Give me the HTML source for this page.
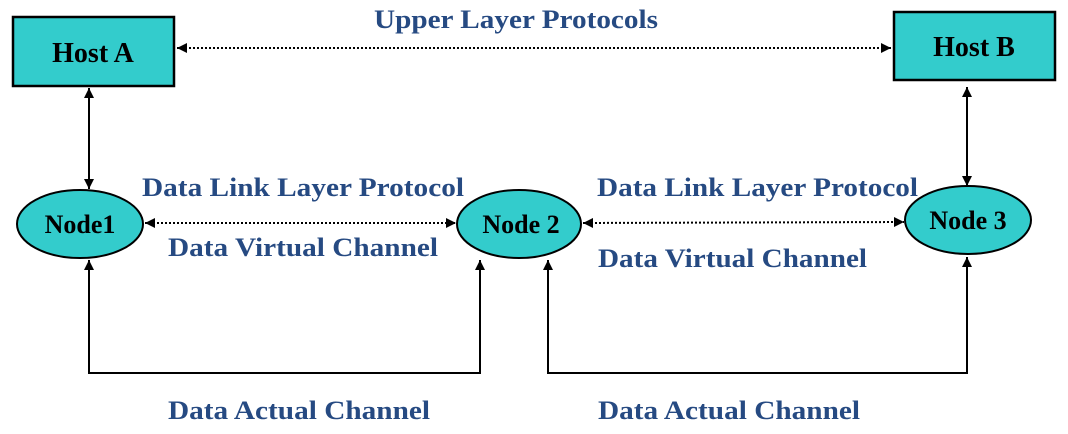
<!DOCTYPE html>
<html><head><style>html,body{margin:0;padding:0;background:#fff;}</style></head>
<body>
<svg width="1068" height="429" viewBox="0 0 1068 429" xmlns="http://www.w3.org/2000/svg">
<defs>
<marker id="ah" viewBox="0 0 10 10" refX="10" refY="5" markerWidth="10" markerHeight="10" markerUnits="userSpaceOnUse" orient="auto-start-reverse"><path d="M0,0 L10,5 L0,10 z" fill="#000"/></marker>
</defs>
<g font-family="Liberation Serif, serif" font-weight="bold">
<rect x="13" y="17" width="161" height="69" fill="#33cccc" stroke="#000" stroke-width="2.5"/>
<text x="93" y="62" font-size="28" text-anchor="middle" fill="#000">Host A</text>
<rect x="894" y="12" width="161" height="68" fill="#33cccc" stroke="#000" stroke-width="2.5"/>
<text x="974" y="56" font-size="28" text-anchor="middle" fill="#000">Host B</text>
<ellipse cx="80" cy="224" rx="63" ry="34" fill="#33cccc" stroke="#000" stroke-width="2"/>
<text x="80" y="233" font-size="26" text-anchor="middle" fill="#000">Node1</text>
<ellipse cx="519" cy="224" rx="62" ry="34" fill="#33cccc" stroke="#000" stroke-width="2"/>
<text x="521" y="233" font-size="26" text-anchor="middle" fill="#000">Node 2</text>
<ellipse cx="968" cy="220" rx="63" ry="34" fill="#33cccc" stroke="#000" stroke-width="2"/>
<text x="968" y="229" font-size="26" text-anchor="middle" fill="#000">Node 3</text>
<g fill="#264a82" font-size="26">
<text x="374" y="28" textLength="284" lengthAdjust="spacingAndGlyphs">Upper Layer Protocols</text>
<text x="142" y="196" textLength="322" lengthAdjust="spacingAndGlyphs">Data Link Layer Protocol</text>
<text x="168" y="256" textLength="270" lengthAdjust="spacingAndGlyphs">Data Virtual Channel</text>
<text x="597" y="196" textLength="321" lengthAdjust="spacingAndGlyphs">Data Link Layer Protocol</text>
<text x="598" y="267" textLength="269" lengthAdjust="spacingAndGlyphs">Data Virtual Channel</text>
<text x="168" y="419" textLength="262" lengthAdjust="spacingAndGlyphs">Data Actual Channel</text>
<text x="598" y="419" textLength="262" lengthAdjust="spacingAndGlyphs">Data Actual Channel</text>
</g>
</g>
<g stroke="#000" fill="none">
<line x1="177" y1="48" x2="891" y2="48" stroke-width="2" stroke-dasharray="2,2" marker-start="url(#ah)" marker-end="url(#ah)"/>
<line x1="145" y1="223" x2="456" y2="223" stroke-width="2" stroke-dasharray="2,2" marker-start="url(#ah)" marker-end="url(#ah)"/>
<line x1="583" y1="223" x2="904" y2="222" stroke-width="2" stroke-dasharray="2,2" marker-start="url(#ah)" marker-end="url(#ah)"/>
<line x1="89" y1="88" x2="89" y2="189" stroke-width="2" marker-start="url(#ah)" marker-end="url(#ah)"/>
<line x1="967" y1="87" x2="967" y2="186" stroke-width="2" marker-start="url(#ah)" marker-end="url(#ah)"/>
<polyline points="89,260 89,373 480,373 480,260" stroke-width="2" marker-start="url(#ah)" marker-end="url(#ah)"/>
<polyline points="548,260 548,373 967,373 967,257" stroke-width="2" marker-start="url(#ah)" marker-end="url(#ah)"/>
</g>
</svg>
</body></html>
